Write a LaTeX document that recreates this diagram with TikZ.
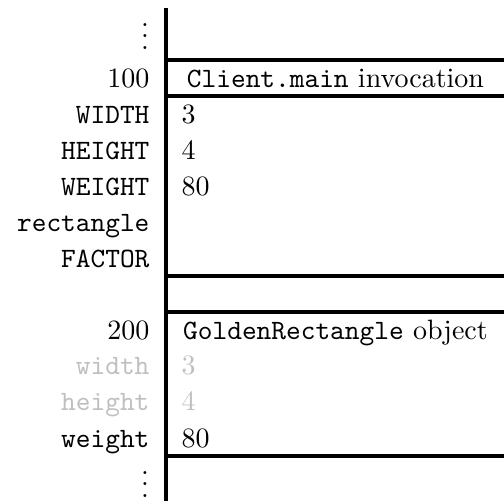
\documentclass[tikz,border=0pt]{standalone}
\begin{document}
\begin{tikzpicture}[x=0.3571pt,y=-0.3571pt,
  rule/.style={line width=1.2pt},
  lbl/.style={anchor=base east,inner sep=0pt},
  val/.style={anchor=base west,inner sep=0pt},
  head/.style={anchor=base,inner sep=0pt},
  faded/.style={text=black!25}]
\useasboundingbox (0,0) rectangle (504,501);
% memory column: left edge and cell boundaries
\coordinate (top) at (166,8);
\coordinate (bot) at (166,501);
\draw[rule] (top) -- (bot);
\foreach \y/\n in {60/a,96/b,276/c,312/d,456/e}{
  \coordinate (l\n) at (166,\y);
  \coordinate (r\n) at (504,\y);
  \draw[rule] (l\n) -- (r\n);
}
% addresses and names
\node[lbl] (dtop) at (149.5,49) {$\vdots$};
\node[lbl] (a100) at (150,87) {100};
\node[lbl] (nW) at (150,123) {\texttt{WIDTH}};
\node[lbl] (nH) at (150,159) {\texttt{HEIGHT}};
\node[lbl] (nG) at (150,195) {\texttt{WEIGHT}};
\node[lbl] (nr) at (150,231) {\texttt{rectangle}};
\node[lbl] (nF) at (150,267) {\texttt{FACTOR}};
\node[lbl] (a200) at (150,339) {200};
\node[lbl,faded] (nw) at (150,375) {\texttt{width}};
\node[lbl,faded] (nh) at (150,411) {\texttt{height}};
\node[lbl] (ng) at (150,447) {\texttt{weight}};
\node[lbl] (dbot) at (149.5,497) {$\vdots$};
% cell contents
\node[head] (h1) at (335.5,87) {\texttt{Client.main} invocation};
\node[val] (vW) at (181,123) {3};
\node[val] (vH) at (181,159) {4};
\node[val] (vG) at (181,195) {80};
\node[head] (h2) at (335.5,339) {\texttt{GoldenRectangle} object};
\node[val,faded] (vw) at (181,375) {3};
\node[val,faded] (vh) at (181,411) {4};
\node[val] (vg) at (181,447) {80};
\end{tikzpicture}
\end{document}
